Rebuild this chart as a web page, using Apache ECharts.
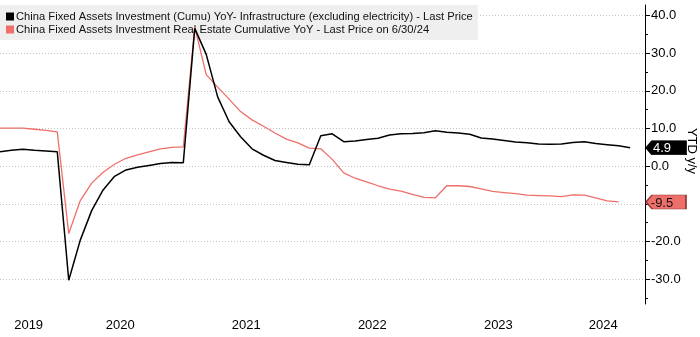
<!DOCTYPE html>
<html><head><meta charset="utf-8">
<script src="https://cdn.jsdelivr.net/npm/echarts@6/dist/echarts.min.js"></script>
<style>html,body{margin:0;padding:0;background:#fff}#c{width:700px;height:337px}</style>
</head><body><div id="c"></div>
<script>
const categories = [
  '2019-07','2019-08','2019-09','2019-10','2019-11','2019-12',
  '2020-02','2020-03','2020-04','2020-05','2020-06','2020-07','2020-08','2020-09','2020-10','2020-11','2020-12',
  '2021-02','2021-03','2021-04','2021-05','2021-06','2021-07','2021-08','2021-09','2021-10','2021-11','2021-12',
  '2022-02','2022-03','2022-04','2022-05','2022-06','2022-07','2022-08','2022-09','2022-10','2022-11','2022-12',
  '2023-02','2023-03','2023-04','2023-05','2023-06','2023-07','2023-08','2023-09','2023-10','2023-11','2023-12',
  '2024-02','2024-03','2024-04','2024-05','2024-06','2024-07'
];
const infraValues = [
  3.8,4.2,4.5,4.2,4.0,3.8,
  -30.3,-19.7,-11.8,-6.3,-2.7,-1.0,-0.3,0.2,0.7,1.0,0.9,
  36.6,29.7,18.4,11.8,7.8,4.6,2.9,1.5,1.0,0.5,0.4,
  8.1,8.6,6.5,6.7,7.1,7.4,8.3,8.6,8.7,8.9,9.4,
  9.0,8.8,8.5,7.5,7.2,6.8,6.4,6.2,5.9,5.8,5.9,
  6.3,6.5,6.0,5.7,5.4,4.9
];
const realEstateValues = [
  10.1,10.1,10.1,9.8,9.5,9.1,
  -17.9,-9.2,-4.5,-1.6,0.5,2.1,3.0,3.8,4.6,5.0,5.1,
  37.0,24.3,21.0,17.8,14.5,12.3,10.6,8.8,7.2,6.2,4.8,
  4.6,1.8,-1.8,-3.2,-4.2,-5.2,-6.1,-6.6,-7.5,-8.3,-8.4,
  -5.2,-5.2,-5.4,-6.0,-6.7,-7.0,-7.3,-7.7,-7.8,-7.9,-8.1,
  -7.6,-7.7,-8.4,-9.2,-9.5
];
const seriesNames = [
  'China Fixed Assets Investment (Cumu) YoY- Infrastructure (excluding electricity) - Last Price',
  'China Fixed Assets Investment Real Estate Cumulative YoY - Last Price on 6/30/24'
];
const yTickValues = [-30,-20,-10,0,10,20,30,40];
const yMinorTickValues = [-35,-25,-15,-5,5,15,25,35];
const yAxisName = 'YTD y/y';

const FONT = "'Liberation Sans', Arial, sans-serif";
const X_MIN = 0, X_MAX = categories.length - 1 + 1.3;
const Y_MIN = -36.6, Y_MAX = 42.8;

// year labels centred over each year's span of observations
const years = [], yearLast = {};
categories.forEach((c, i) => { const y = c.slice(0, 4); if (!(y in yearLast)) years.push(y); yearLast[y] = i; });
const yearPos = years.map((y, k) => {
  const start = k === 0 ? 0 : yearLast[years[k - 1]];
  const end = k === years.length - 1 ? X_MAX : yearLast[y];
  return (start + end) / 2;
});

const toPairs = vals => vals.map((v, i) => [i, v]);

function tag(value, fill, border, textColor) {
  return {
    silent: true,
    symbol: 'path://M0,7L6,0L40,0L40,14L6,14Z',
    symbolSize: [40, 14],
    symbolOffset: [21, 0],
    itemStyle: { color: fill, borderColor: border, borderWidth: 1 },
    label: { show: true, position: 'inside', offset: [-4, 1], formatter: value.toFixed(1),
             color: textColor, fontSize: 13, fontFamily: FONT },
    data: [{ coord: [X_MAX, value] }]
  };
}

const chart = echarts.init(document.getElementById('c'), null, { renderer: 'canvas' });
chart.setOption({
  animation: false,
  backgroundColor: '#fff',
  textStyle: { fontFamily: FONT },
  grid: { left: 0, right: 55, top: 5, bottom: 33, containLabel: false, outerBoundsMode: 'none' },
  legend: {
    orient: 'vertical', left: 0, top: 5,
    backgroundColor: '#efefef',
    padding: [6, 5, 5, 6],
    itemWidth: 8, itemHeight: 8, itemGap: 2,
    icon: 'rect',
    textStyle: { fontSize: 11.2, color: '#111', fontFamily: FONT, padding: [0, 0, 0, -3] },
    data: seriesNames
  },
  xAxis: {
    type: 'value', min: X_MIN, max: X_MAX,
    axisLine: { show: false, onZero: false }, axisTick: { show: false }, splitLine: { show: false },
    axisLabel: {
      customValues: yearPos,
      formatter: v => { const k = yearPos.findIndex(p => Math.abs(p - v) < 1e-6); return k >= 0 ? years[k] : ''; },
      color: '#000', fontSize: 13, margin: 15, fontFamily: FONT
    }
  },
  yAxis: [{
    type: 'value', position: 'right', min: Y_MIN, max: Y_MAX,
    axisLine: { show: true, onZero: false, lineStyle: { color: '#000', width: 1 } },
    axisTick: { show: true, customValues: yTickValues, length: 5, lineStyle: { color: '#000' } },
    axisLabel: { customValues: yTickValues, formatter: v => v.toFixed(1), color: '#000', fontSize: 13, margin: 6, fontFamily: FONT },
    splitLine: { show: true, lineStyle: { color: '#c4c4c4', type: [1, 2], width: 1 } },
    name: yAxisName, nameLocation: 'middle', nameRotate: -90, nameGap: 40, nameMoveOverlap: false,
    nameTextStyle: { fontSize: 13, color: '#000', fontFamily: FONT, padding: [0, 7, 0, 0] }
  }, {
    type: 'value', position: 'right', min: Y_MIN, max: Y_MAX,
    axisLine: { show: false, onZero: false },
    axisTick: { show: true, customValues: yMinorTickValues, length: 3, lineStyle: { color: '#000' } },
    axisLabel: { show: false }, splitLine: { show: false }
  }],
  series: [{
    name: seriesNames[0], type: 'line', z: 5, showSymbol: false, symbol: 'none',
    color: '#000', lineStyle: { color: '#000', width: 1.5 },
    data: toPairs(infraValues),
    markPoint: tag(infraValues[infraValues.length - 1], '#000', '#000', '#fff')
  }, {
    name: seriesNames[1], type: 'line', z: 4, showSymbol: false, symbol: 'none',
    color: '#ee6f6a', lineStyle: { color: '#ee6f6a', width: 1.3 },
    data: toPairs(realEstateValues),
    markPoint: tag(realEstateValues[realEstateValues.length - 1], '#ee6f6a', '#8a3a36', '#111')
  }]
});
</script></body></html>
